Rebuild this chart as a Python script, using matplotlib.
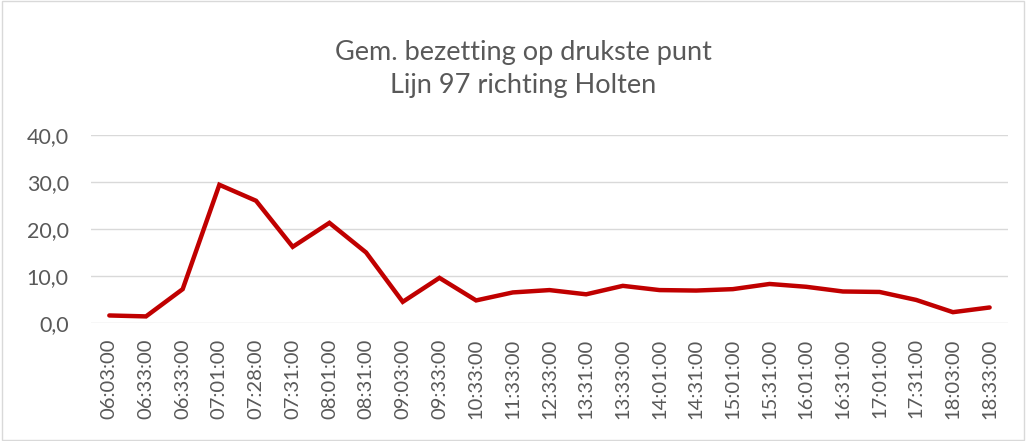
import matplotlib
matplotlib.use("Agg")
import matplotlib.pyplot as plt
from matplotlib.ticker import FuncFormatter

labels = ["06:03:00", "06:33:00", "06:33:00", "07:01:00", "07:28:00", "07:31:00",
          "08:01:00", "08:31:00", "09:03:00", "09:33:00", "10:33:00", "11:33:00",
          "12:33:00", "13:31:00", "13:33:00", "14:01:00", "14:31:00", "15:01:00",
          "15:31:00", "16:01:00", "16:31:00", "17:01:00", "17:31:00", "18:03:00",
          "18:33:00"]
values = [1.6, 1.4, 7.2, 29.4, 26.0, 16.2, 21.3, 15.0, 4.5, 9.6, 4.8, 6.5,
          7.0, 6.1, 7.9, 7.0, 6.9, 7.2, 8.3, 7.7, 6.7, 6.6, 4.9, 2.3, 3.3]
title = "Gem. bezetting op drukste punt\nLijn 97 richting Holten"

plt.rcParams['font.family'] = ['Lato', 'DejaVu Sans']
grey = "#595959"

fig = plt.figure(figsize=(10.28, 4.41), dpi=100)
ax = fig.add_axes([0.0885, 0.2676, 0.892, 0.4264])
x = list(range(len(values)))
ax.plot(x, values, color="#C00000", linewidth=3.2, solid_joinstyle="miter", solid_capstyle="round", zorder=3)
ax.set_xlim(-0.5, len(values) - 0.5)
ax.set_ylim(0, 40)
ax.set_yticks([0, 10, 20, 30, 40])
ax.yaxis.set_major_formatter(FuncFormatter(lambda v, p: f"{v:.1f}".replace(".", ",")))
ax.set_xticks(x)
ax.set_xticklabels(labels, rotation=90)
ax.grid(axis="y", color="#D9D9D9", linewidth=1.0)
ax.set_axisbelow(True)
for s in ax.spines.values():
    s.set_visible(False)
ax.tick_params(axis="both", length=0, colors=grey)
ax.tick_params(axis="y", pad=16, labelsize=15.5)
ax.tick_params(axis="x", pad=11, labelsize=14.5)
fig.text(0.509, 0.843, title, ha="center", va="center", fontsize=19.5, color=grey, linespacing=1.42)
fig.patches.append(plt.Rectangle((0.002, 0.003), 0.994, 0.994, transform=fig.transFigure,
                                 fill=False, edgecolor="#D9D9D9", linewidth=1))
fig.savefig("out.png", dpi=100)
